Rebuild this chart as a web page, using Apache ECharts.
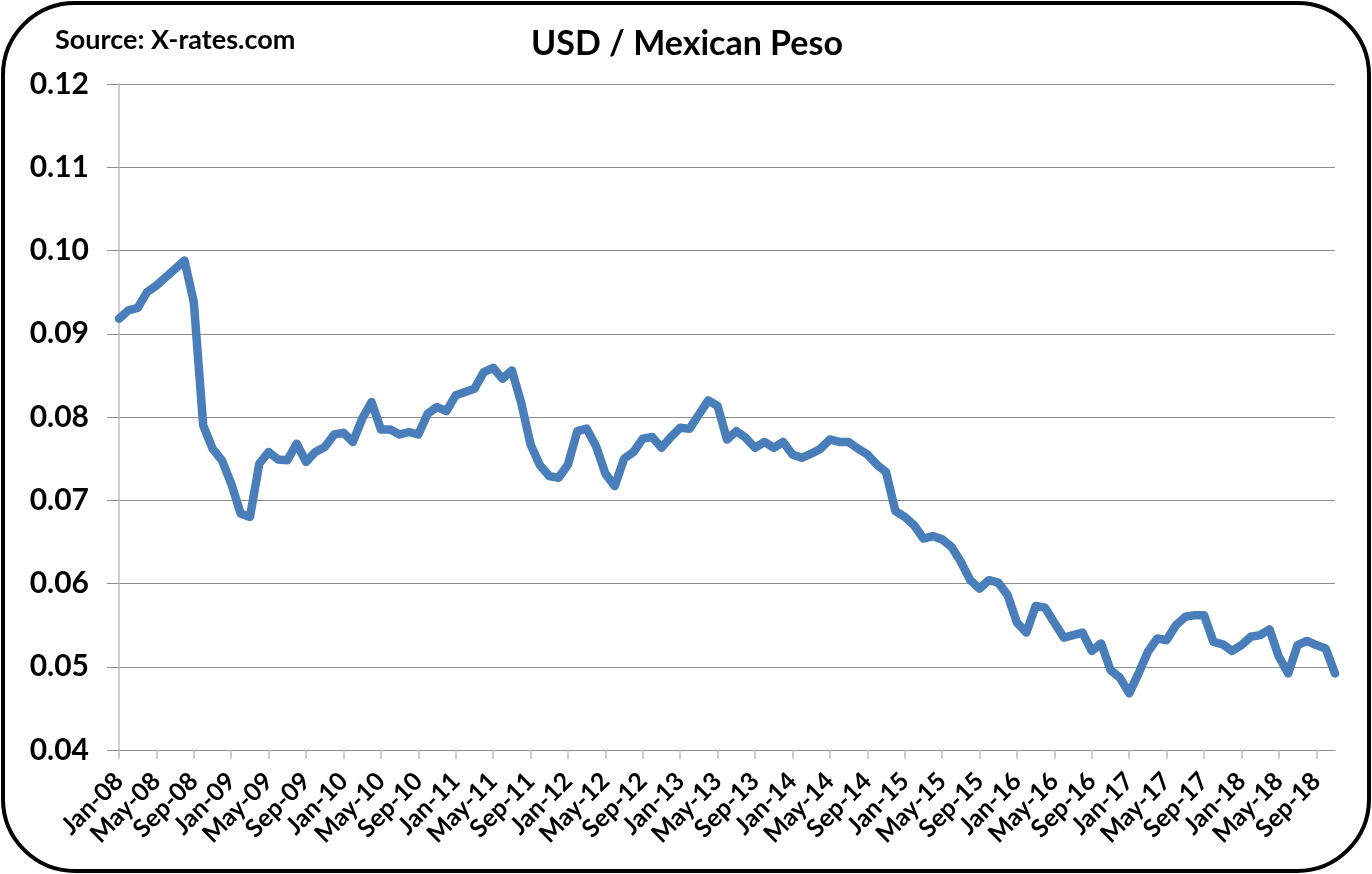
<!DOCTYPE html>
<html><head><meta charset="utf-8">
<script src="https://cdn.jsdelivr.net/npm/echarts@6/dist/echarts.min.js"></script>
<style>html,body{margin:0;padding:0;background:#fff}#c{width:1372px;height:874px}</style>
</head><body><div id="c"></div>
<script>
const monthNames = ['Jan','Feb','Mar','Apr','May','Jun','Jul','Aug','Sep','Oct','Nov','Dec'];
const years = ['08','09','10','11','12','13','14','15','16','17','18'];
const categories = [];
years.forEach(y => monthNames.forEach(m => categories.push(m + '-' + y)));
categories.length = 131; // Jan-08 .. Nov-18

const rates = [
  // 2008
  0.0918,0.0928,0.0931,0.0950,0.0958,0.0968,0.0978,0.0988,0.0938,0.0790,0.0762,0.0748,
  // 2009
  0.0720,0.0684,0.0680,0.0744,0.0758,0.0749,0.0748,0.0768,0.0746,0.0758,0.0764,0.0779,
  // 2010
  0.0781,0.0770,0.0798,0.0818,0.0785,0.0785,0.0779,0.0782,0.0779,0.0804,0.0812,0.0807,
  // 2011
  0.0826,0.0830,0.0834,0.0854,0.0859,0.0846,0.0856,0.0817,0.0767,0.0742,0.0729,0.0727,
  // 2012
  0.0743,0.0783,0.0786,0.0765,0.0732,0.0717,0.0750,0.0758,0.0774,0.0776,0.0763,0.0776,
  // 2013
  0.0787,0.0786,0.0803,0.0820,0.0813,0.0773,0.0783,0.0775,0.0763,0.0770,0.0763,0.0770,
  // 2014
  0.0755,0.0751,0.0756,0.0762,0.0773,0.0770,0.0770,0.0762,0.0755,0.0743,0.0734,0.0687,
  // 2015
  0.0680,0.0670,0.0654,0.0657,0.0653,0.0644,0.0626,0.0604,0.0594,0.0604,0.0601,0.0586,
  // 2016
  0.0553,0.0541,0.0573,0.0571,0.0553,0.0535,0.0538,0.0541,0.0519,0.0528,0.0496,0.0487,
  // 2017
  0.0468,0.0492,0.0518,0.0534,0.0532,0.0550,0.0560,0.0562,0.0562,0.0530,0.0527,0.0519,
  // 2018
  0.0526,0.0536,0.0538,0.0545,0.0512,0.0492,0.0526,0.0531,0.0526,0.0522,0.0492
];

const yMin = 0.04, yMax = 0.12, yStep = 0.01;
const titleText = 'USD / Mexican Peso';
const sourceText = 'Source: X-rates.com';

const chart = echarts.init(document.getElementById('c'), null, {renderer: 'canvas'});
const FONT = 'Lato, "Open Sans", sans-serif';
chart.setOption({
  animation: false,
  backgroundColor: '#fff',
  graphic: [
    {type: 'rect', shape: {x: 3, y: 3, width: 1366, height: 868, r: 72},
     style: {fill: 'none', stroke: '#000', lineWidth: 4}, z: 100},
    {type: 'text', x: 687, y: 44,
     style: {text: titleText, font: 'bold 34px ' + FONT, fill: '#000', align: 'center', verticalAlign: 'middle', textAlign: 'center', textVerticalAlign: 'middle'}},
    {type: 'text', x: 55, y: 40,
     style: {text: sourceText, font: 'bold 27px ' + FONT, fill: '#000', align: 'left', verticalAlign: 'middle', textAlign: 'left', textVerticalAlign: 'middle'}}
  ],
  grid: {left: 119, right: 37, top: 84, bottom: 124, containLabel: false},
  xAxis: {
    type: 'category',
    data: categories,
    boundaryGap: false,
    axisLine: {lineStyle: {color: '#8e8e8e', width: 1}},
    axisTick: {show: true, interval: 3, length: 9, lineStyle: {color: '#bfbfbf', width: 1.5}},
    axisLabel: {interval: 3, rotate: 45, margin: 27, color: '#000', fontFamily: FONT, fontWeight: 'bold', fontSize: 25,
      showMinLabel: true, hideOverlap: false},
    splitLine: {show: false}
  },
  yAxis: {
    type: 'value',
    min: yMin, max: yMax, interval: yStep,
    axisLine: {show: true, lineStyle: {color: '#bfbfbf', width: 1.5}},
    axisTick: {show: true, length: 12, lineStyle: {color: '#8e8e8e', width: 1}},
    axisLabel: {margin: 30, color: '#000', fontFamily: FONT, fontWeight: 'bold', fontSize: 30,
      formatter: v => v.toFixed(2)},
    splitLine: {show: true, lineStyle: {color: '#8e8e8e', width: 1}}
  },
  series: [{
    type: 'line',
    data: rates,
    showSymbol: false,
    symbol: 'none',
    lineStyle: {color: '#4a7ebb', width: 8.5, join: 'round', cap: 'round'},
    itemStyle: {color: '#4a7ebb'}
  }]
});
</script></body></html>
